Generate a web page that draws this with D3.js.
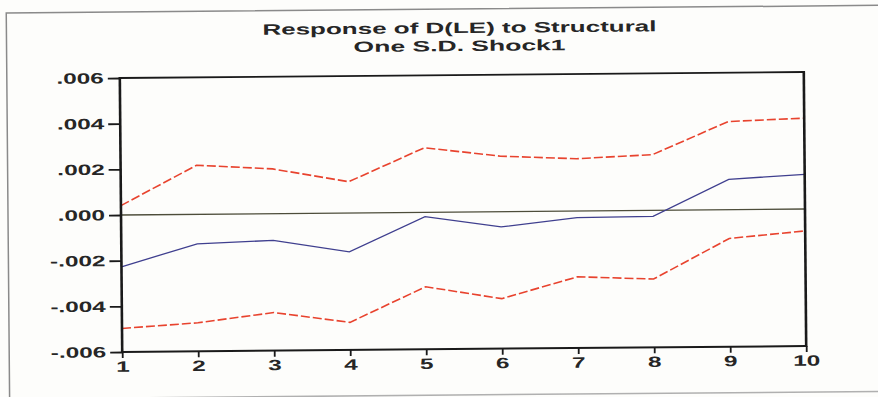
<!DOCTYPE html>
<html><head><meta charset="utf-8">
<script src="https://cdn.jsdelivr.net/npm/d3@7"></script>
<style>body{margin:0;background:#fdfdfb;overflow:hidden}</style>
</head><body>
<script>
// ---- data ----
const periods = [1,2,3,4,5,6,7,8,9,10];
const response  = [-0.00227,-0.00129,-0.00117,-0.00170,-0.00019,-0.00067,-0.00029,-0.00026,0.00133,0.00152];
const upperBand = [0.00041,0.00215,0.00196,0.00137,0.00283,0.00243,0.00229,0.00244,0.00386,0.00398];
const lowerBand = [-0.00497,-0.00475,-0.00433,-0.00479,-0.00326,-0.00381,-0.00288,-0.00301,-0.00126,-0.00096];
const yTicks = [-0.006,-0.004,-0.002,0,0.002,0.004,0.006];
const titleLines = ["Response of D(LE) to Structural","One S.D. Shock1"];

const W = 878, H = 397;
const svg = d3.select("body").append("svg").attr("width", W).attr("height", H);
const g = svg.append("g").attr("transform","rotate(-0.5,463,212)");

// scan frame
g.append("path").attr("d","M8,395 L8,9 L900,9").attr("fill","none").attr("stroke","#8a8a8a").attr("stroke-width",1.5);
g.append("line").attr("x1",8).attr("x2",900).attr("y1",395).attr("y2",395).attr("stroke","#b0b0b0").attr("stroke-width",1.5);

const x = d3.scaleLinear().domain([1,10]).range([121,805]);
const y = d3.scaleLinear().domain([-0.006,0.006]).range([349,75]);

const fmt = v => (v < 0 ? "-" : "") + d3.format(".3f")(Math.abs(v)).replace(/^0/,"");
const font = "'Liberation Sans', Arial, sans-serif";

// title
const tw = [394, 212];
titleLines.forEach((t,i) => {
  g.append("text").attr("x",461).attr("y",33 + i*18).attr("text-anchor","middle")
    .attr("font-family",font).attr("font-weight","bold").attr("font-size",15).attr("fill","#262626")
    .attr("textLength",tw[i]).attr("lengthAdjust","spacingAndGlyphs").text(t);
});

// zero line
g.append("line").attr("x1",x(1)).attr("x2",x(10)).attr("y1",y(0)).attr("y2",y(0))
  .attr("stroke","#4d4d3a").attr("stroke-width",1.3);

const line = d3.line().x((d,i)=>x(periods[i])).y(d=>y(d));
g.append("path").datum(upperBand).attr("d",line).attr("fill","none")
  .attr("stroke","#e8432e").attr("stroke-width",1.6).attr("stroke-dasharray","9,3");
g.append("path").datum(lowerBand).attr("d",line).attr("fill","none")
  .attr("stroke","#e8432e").attr("stroke-width",1.6).attr("stroke-dasharray","9,3");
g.append("path").datum(response).attr("d",line).attr("fill","none")
  .attr("stroke","#3f3f8f").attr("stroke-width",1.3);

// axes
const yAxis = g.append("g").attr("transform",`translate(${x(1)},0)`)
  .call(d3.axisLeft(y).tickValues(yTicks).tickFormat(fmt).tickSize(12).tickPadding(4));
const xAxis = g.append("g").attr("transform",`translate(0,${y(-0.006)})`)
  .call(d3.axisBottom(x).tickValues(periods).tickFormat(d3.format("d")).tickSize(6).tickPadding(3));
[yAxis,xAxis].forEach(a=>{
  a.select(".domain").remove();
  a.selectAll(".tick line").attr("stroke","#1a1a1a").attr("stroke-width",1.8);
  a.selectAll("text").attr("font-family",font).attr("font-weight","bold").attr("font-size",15).attr("fill","#262626");
});
[yAxis,xAxis].forEach(a=>a.selectAll("text").each(function(){
  const L = this.getComputedTextLength();
  d3.select(this).attr("textLength", L*1.62).attr("lengthAdjust","spacingAndGlyphs");
}));

// plot frame
const fr = g.append("g").attr("fill","none").attr("stroke","#1a1a1a");
fr.append("line").attr("x1",x(1)).attr("x2",x(10)).attr("y1",y(0.006)).attr("y2",y(0.006)).attr("stroke-width",1.8);
fr.append("line").attr("x1",x(1)).attr("x2",x(10)).attr("y1",y(-0.006)).attr("y2",y(-0.006)).attr("stroke-width",2);
fr.append("line").attr("x1",x(1)).attr("x2",x(1)).attr("y1",y(0.006)-1).attr("y2",y(-0.006)+1).attr("stroke-width",2.6);
fr.append("line").attr("x1",x(10)).attr("x2",x(10)).attr("y1",y(0.006)-1).attr("y2",y(-0.006)+1).attr("stroke-width",2.6);
</script>
</body></html>
